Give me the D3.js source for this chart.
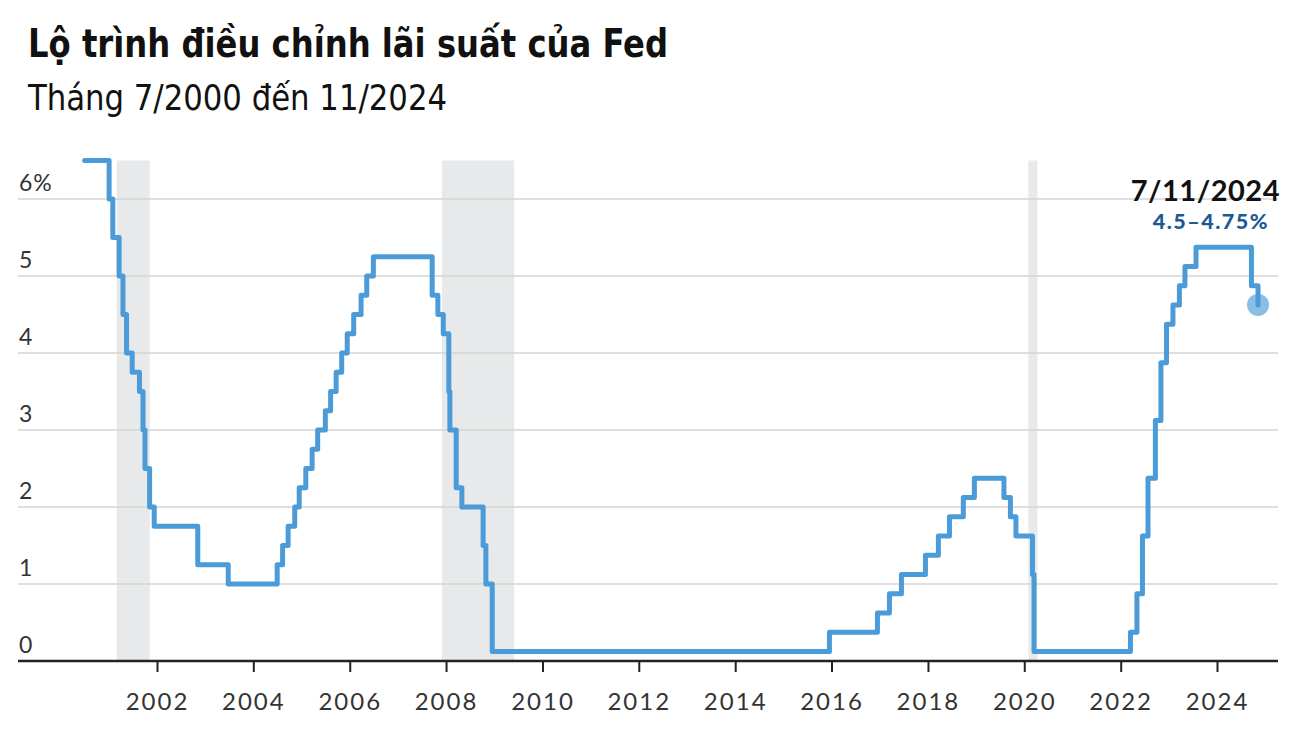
<!DOCTYPE html>
<html lang="vi">
<head>
<meta charset="UTF-8">
<script src="https://cdnjs.cloudflare.com/ajax/libs/d3/7.8.5/d3.min.js"></script>
<style>
  body { margin: 0; background: #fff; }
  .title { font-family: 'Liberation Sans Narrow', 'DejaVu Sans Condensed', sans-serif; }
  .lbl { font-family: 'Lato', 'Noto Sans', sans-serif; fill: #333; }
</style>
<title>Fed</title>
</head>
<body>
<div id="chart"></div>
<script>
// rate changes: [date, midpoint of target range]
const changeDates = ["2000-07-01","2001-01-03","2001-01-31","2001-03-20","2001-04-18","2001-05-15","2001-06-27",
  "2001-08-21","2001-09-17","2001-10-02","2001-11-06","2001-12-11","2002-11-06","2003-06-25","2004-06-30",
  "2004-08-10","2004-09-21","2004-11-10","2004-12-14","2005-02-02","2005-03-22","2005-05-03","2005-06-30",
  "2005-08-09","2005-09-20","2005-11-01","2005-12-13","2006-01-31","2006-03-28","2006-05-10","2006-06-29",
  "2007-09-18","2007-10-31","2007-12-11","2008-01-22","2008-01-30","2008-03-18","2008-04-30","2008-10-08",
  "2008-10-29","2008-12-16","2015-12-16","2016-12-14","2017-03-15","2017-06-14","2017-12-13","2018-03-21",
  "2018-06-13","2018-09-26","2018-12-19","2019-07-31","2019-09-18","2019-10-30","2020-03-03","2020-03-15",
  "2022-03-16","2022-05-04","2022-06-15","2022-07-27","2022-09-21","2022-11-02","2022-12-14","2023-02-01",
  "2023-03-22","2023-05-03","2023-07-26","2024-09-18","2024-11-07"];
const rates = [6.5,6.0,5.5,5.0,4.5,4.0,3.75,
  3.5,3.0,2.5,2.0,1.75,1.25,1.0,1.25,
  1.5,1.75,2.0,2.25,2.5,2.75,3.0,3.25,
  3.5,3.75,4.0,4.25,4.5,4.75,5.0,5.25,
  4.75,4.5,4.25,3.5,3.0,2.25,2.0,1.5,
  1.0,0.125,0.375,0.625,0.875,1.125,1.375,1.625,
  1.875,2.125,2.375,2.125,1.875,1.625,1.125,0.125,
  0.375,0.875,1.625,2.375,3.125,3.875,4.375,4.625,
  4.875,5.125,5.375,4.875,4.625];

// recessions
const recessionStart = ["2001-03-01","2007-12-01","2020-02-01"];
const recessionEnd = ["2001-11-07","2009-05-31","2020-04-10"];

const yTicks = [0,1,2,3,4,5,6];
const xTickYears = [2002,2004,2006,2008,2010,2012,2014,2016,2018,2020,2022,2024];

const title = "Lộ trình điều chỉnh lãi suất của Fed";
const subtitle = "Tháng 7/2000 đến 11/2024";
const endDateLabel = "7/11/2024";
const endRateLabel = "4.5–4.75%";

const W = 1294, H = 744;
const parse = d3.timeParse("%Y-%m-%d");
const data = changeDates.map((d, i) => ({ date: parse(d), value: rates[i] }));

const svg = d3.select("#chart").append("svg")
  .attr("width", W).attr("height", H);

const x = d3.scaleTime()
  .domain([new Date(2002, 0, 1), new Date(2024, 0, 1)])
  .range([157, 1217]);
const y = d3.scaleLinear().domain([0, 6]).range([661, 199]);

const plotLeft = 18, plotRight = 1278, plotTop = y(6.5);

// title (squeezed to the narrow width of the original)
svg.append("text").attr("class", "title")
  .attr("x", 28).attr("y", 57)
  .attr("font-size", 39).attr("font-weight", "bold").attr("fill", "#111")
  .attr("textLength", 640).attr("lengthAdjust", "spacingAndGlyphs")
  .text(title);
svg.append("text").attr("class", "title")
  .attr("x", 28).attr("y", 110)
  .attr("font-size", 36).attr("fill", "#111")
  .attr("textLength", 419).attr("lengthAdjust", "spacingAndGlyphs")
  .text(subtitle);

// recession bands
svg.append("g").selectAll("rect")
  .data(recessionStart)
  .join("rect")
  .attr("x", (d) => x(parse(d)))
  .attr("width", (d, i) => x(parse(recessionEnd[i])) - x(parse(d)))
  .attr("y", plotTop)
  .attr("height", y(0) - plotTop)
  .attr("fill", "#e8e9eb");

// grid
svg.append("g").selectAll("line")
  .data(yTicks.filter(d => d > 0))
  .join("line")
  .attr("x1", plotLeft).attr("x2", plotRight)
  .attr("y1", d => y(d)).attr("y2", d => y(d))
  .attr("stroke", "#d5d5d5").attr("stroke-width", 1.5);

svg.append("g").selectAll("text")
  .data(yTicks)
  .join("text")
  .attr("class", "lbl")
  .attr("x", plotLeft + 1)
  .attr("y", d => y(d) - 8)
  .attr("font-size", 23)
  .attr("letter-spacing", 1)
  .text(d => d === 6 ? "6%" : d);

// x axis
const xAxis = svg.append("g")
  .attr("transform", `translate(0,${y(0)})`)
  .call(d3.axisBottom(x)
    .tickValues(xTickYears.map(yr => new Date(yr, 0, 1)))
    .tickFormat(d3.timeFormat("%Y"))
    .tickSize(11).tickPadding(21));
xAxis.select(".domain").remove();
xAxis.selectAll(".tick line").attr("stroke", "#222").attr("stroke-width", 2);
xAxis.selectAll(".tick text").attr("class", "lbl")
  .attr("font-size", 24).attr("letter-spacing", 2).attr("fill", "#333");
svg.append("line")
  .attr("x1", plotLeft).attr("x2", plotRight)
  .attr("y1", y(0)).attr("y2", y(0))
  .attr("stroke", "#222").attr("stroke-width", 2.5);

// rate line
const line = d3.line()
  .x(d => x(d.date))
  .y(d => y(d.value))
  .curve(d3.curveStepAfter);
svg.append("path")
  .datum(data)
  .attr("fill", "none")
  .attr("stroke", "#4a9bd7")
  .attr("stroke-width", 5)
  .attr("stroke-linejoin", "round")
  .attr("stroke-linecap", "round")
  .attr("d", line);

const last = data[data.length - 1];
svg.append("circle")
  .attr("cx", x(last.date)).attr("cy", y(last.value))
  .attr("r", 11)
  .attr("fill", "#4a9bd7").attr("fill-opacity", 0.65);

svg.append("text").attr("class", "lbl")
  .attr("x", 1280).attr("y", 201)
  .attr("text-anchor", "end")
  .attr("font-size", 29).attr("font-weight", "bold").attr("letter-spacing", 0.5)
  .style("fill", "#111")
  .text(endDateLabel);
svg.append("text").attr("class", "lbl")
  .attr("x", 1269).attr("y", 229)
  .attr("text-anchor", "end")
  .attr("font-size", 21.5).attr("font-weight", 900).attr("letter-spacing", 1.5)
  .style("fill", "#1b5a96")
  .text(endRateLabel);
</script>
</body>
</html>
